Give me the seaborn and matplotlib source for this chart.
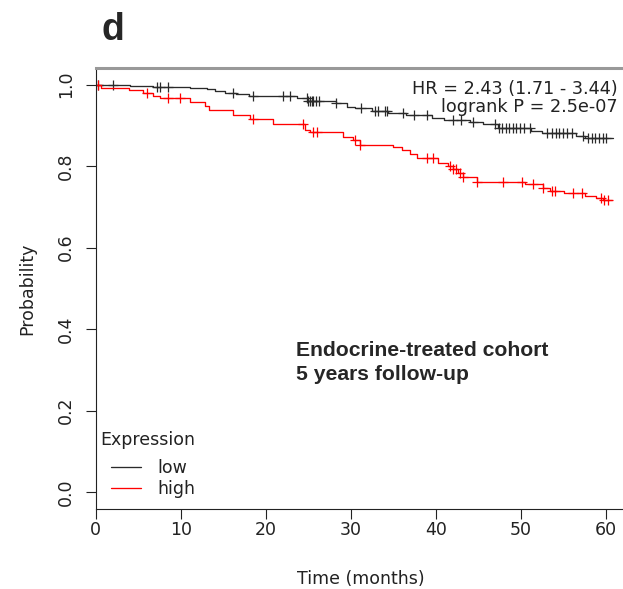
import numpy as np
import pandas as pd
import seaborn as sns
import matplotlib.pyplot as plt

# Kaplan-Meier step data (time in months, survival after each step)
low_time = [0, 4.1, 6.8, 11.1, 13.1, 14.0, 15.2, 16.5, 18.0, 23.7, 25.0, 28.2, 29.5,
            30.5, 32.5, 34.4, 36.5, 39.5, 41.0, 44.0, 45.5, 47.3, 51.2, 52.5, 56.5,
            57.5, 60.8]
low_surv = [1.0, 0.996, 0.993, 0.991, 0.988, 0.984, 0.980, 0.976, 0.9725, 0.966, 0.960,
            0.954, 0.946, 0.942, 0.936, 0.930, 0.925, 0.918, 0.914, 0.909, 0.902, 0.893,
            0.886, 0.880, 0.874, 0.869, 0.869]
low_censor = [0.3, 2.1, 7.2, 7.6, 8.5, 16.2, 18.5, 22.0, 22.8, 24.8, 25.0, 25.2, 25.4,
              25.6, 25.9, 26.3, 28.3, 31.2, 32.8, 33.2, 34.0, 34.3, 36.1, 37.4, 38.9,
              42.0, 43.0, 44.3, 46.9, 47.4, 47.8, 48.2, 48.6, 49.0, 49.4, 49.9, 50.4,
              51.0, 53.0, 53.6, 54.1, 54.5, 54.9, 55.4, 56.0, 57.3, 57.9, 58.3, 58.7,
              59.2, 59.6, 60.0]

high_time = [0, 0.6, 3.9, 5.6, 6.8, 7.6, 11.1, 12.9, 13.3, 16.2, 18.2, 20.9, 24.6, 25.2,
             29.1, 30.2, 31.1, 35.0, 36.0, 37.0, 37.8, 40.2, 41.4, 42.0, 42.6, 43.2,
             44.8, 50.5, 52.6, 53.4, 55.0, 57.5, 58.8, 59.6, 60.7]
high_surv = [1.0, 0.992, 0.987, 0.978, 0.972, 0.966, 0.958, 0.948, 0.937, 0.925, 0.915,
             0.902, 0.888, 0.884, 0.872, 0.864, 0.852, 0.847, 0.840, 0.830, 0.819, 0.808,
             0.800, 0.792, 0.784, 0.774, 0.762, 0.757, 0.745, 0.740, 0.733, 0.727, 0.722,
             0.716, 0.716]
high_censor = [0.3, 6.0, 8.5, 9.9, 18.5, 24.4, 25.6, 26.0, 30.5, 31.1, 39.0, 39.7, 41.6,
               42.0, 42.4, 42.8, 43.2, 44.8, 47.9, 50.1, 51.4, 52.6, 53.6, 54.0, 56.1,
               57.2, 59.4, 59.8, 60.2]

x_ticks = [0, 10, 20, 30, 40, 50, 60]
y_ticks = [0.0, 0.2, 0.4, 0.6, 0.8, 1.0]

sns.set_theme(style="ticks")
plt.rcParams['font.family'] = ['DejaVu Sans']

fig = plt.figure(figsize=(6.23, 5.89), dpi=100)
ax = fig.add_axes([0.1534, 0.1365, 0.8523, 0.7477])


def at_time(times, surv, pts):
    idx = np.searchsorted(times, pts, side='right') - 1
    return np.asarray(surv)[idx]


groups = [("low", low_time, low_surv, low_censor, "#2a2a2a"),
          ("high", high_time, high_surv, high_censor, "#ff0000")]
for name, t, s, c, col in groups:
    sns.lineplot(x=t, y=s, drawstyle='steps-post', color=col, lw=0.95, ax=ax,
                 label=name, estimator=None)
    sns.scatterplot(x=c, y=at_time(t, s, c), marker='+', s=60, color=col,
                    linewidth=0.9, ax=ax, legend=False)

ax.set_xlim(0, 62.4)
ax.set_ylim(-0.04, 1.04)
ax.set_xticks(x_ticks)
ax.set_yticks(y_ticks)
ax.set_xticklabels([str(v) for v in x_ticks])
ax.set_yticklabels([f"{v:.1f}" for v in y_ticks], rotation=90, va='center')
ax.tick_params(axis='both', labelsize=12.5, length=7, width=0.8, colors='#222222',
               labelcolor='#222222')
ax.tick_params(axis='x', pad=2)
ax.tick_params(axis='y', pad=8)
ax.set_xlabel("Time (months)", fontsize=12.5, color='#222222', labelpad=22)
ax.set_ylabel("Probability", fontsize=12.5, color='#222222', labelpad=15)

ax.spines['right'].set_visible(False)
ax.spines['top'].set_color('#999999')
ax.spines['top'].set_linewidth(2.2)
for side in ['left', 'bottom']:
    ax.spines[side].set_color('#222222')
    ax.spines[side].set_linewidth(0.8)

ax.text(0.983, 0.953, "HR = 2.43 (1.71 - 3.44)", transform=ax.transAxes,
        ha='right', va='center', fontsize=12.7, color='#222222')
ax.text(0.983, 0.912, "logrank P = 2.5e-07", transform=ax.transAxes,
        ha='right', va='center', fontsize=12.7, color='#222222')

ax.text(0.378, 0.332, "Endocrine-treated cohort\n5 years follow-up",
        transform=ax.transAxes, ha='left', va='center', fontsize=15.2,
        fontweight='bold', family='Liberation Sans', linespacing=1.35)

fig.text(0.163, 0.949, "d", ha='left', va='center', fontsize=27,
         fontweight='bold', family='Liberation Sans')

ax.text(0.008, 0.155, "Expression", transform=ax.transAxes, ha='left', va='center',
        fontsize=12.5, color='#222222')
leg = ax.legend(loc='lower left', bbox_to_anchor=(0.002, -0.007),
                frameon=False, fontsize=12.5, handlelength=1.75,
                handletextpad=0.95, labelspacing=0.15, borderpad=0.3)
for txt in leg.get_texts():
    txt.set_color('#222222')

fig.savefig("out.png", dpi=100)
